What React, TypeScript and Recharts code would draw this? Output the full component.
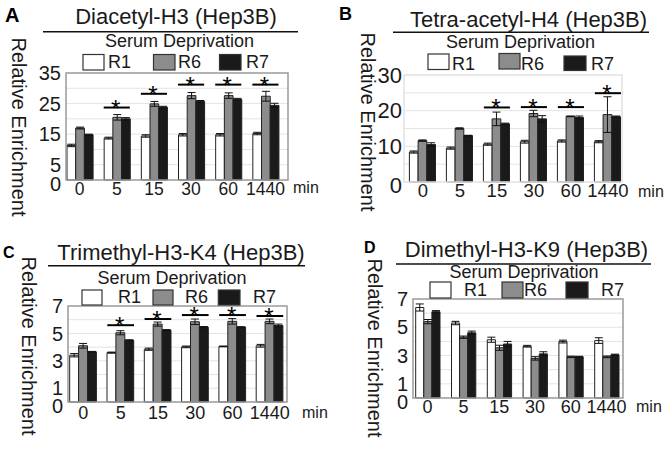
import React from 'react';
import { ComposedChart, Bar, Line, XAxis, YAxis, ErrorBar, CartesianGrid } from 'recharts';

const FONT = '"Liberation Sans", Arial, Helvetica, sans-serif';
const TIMES = ['0', '5', '15', '30', '60', '1440'];
const SERIES = ['R1', 'R6', 'R7'];
const COLORS = ['#ffffff', '#8c8c8c', '#1a1a1a'];

// A: Diacetyl-H3
const A_R1 = [11.3, 13.7, 14.4, 14.8, 14.8, 15.2];
const A_R6 = [17.0, 20.5, 24.9, 27.6, 27.6, 27.4];
const A_R7 = [14.8, 20.0, 23.8, 25.7, 26.4, 24.4];
const A_R1_ERR = [0.4, 0.3, 0.4, 0.4, 0.4, 0.4];
const A_R6_ERR = [0.3, 0.9, 0.8, 1.0, 0.9, 1.6];
const A_R7_ERR = [0.2, 0.4, 0.3, 0.3, 0.3, 0.7];
const A_SIG = [null, 23.7, 28.2, 31.2, 31.2, 31.2];

// B: Tetra-acetyl-H4
const B_R1 = [8.4, 9.5, 10.6, 11.3, 11.5, 11.3];
const B_R6 = [11.6, 15.0, 17.7, 19.2, 18.4, 18.9];
const B_R7 = [10.5, 13.0, 16.3, 17.7, 18.1, 18.3];
const B_R1_ERR = [0.3, 0.3, 0.3, 0.4, 0.3, 0.3];
const B_R6_ERR = [0.2, 0.2, 1.9, 0.9, 0.1, 5.0];
const B_R7_ERR = [0.5, 0.1, 0.2, 0.9, 0.4, 0.2];
const B_SIG = [null, null, 20.9, 21.0, 21.0, 24.9];

// C: Trimethyl-H3-K4
const C_R1 = [3.41, 3.6, 3.85, 4.02, 4.05, 4.1];
const C_R6 = [4.1, 5.05, 5.68, 5.85, 5.88, 5.88];
const C_R7 = [3.66, 4.5, 5.24, 5.46, 5.46, 5.58];
const C_R1_ERR = [0.12, 0.04, 0.08, 0.06, 0.03, 0.1];
const C_R6_ERR = [0.17, 0.15, 0.15, 0.2, 0.2, 0.17];
const C_R7_ERR = [0.03, 0.04, 0.04, 0.04, 0.03, 0.1];
const C_SIG = [null, 5.6, 6.05, 6.34, 6.34, 6.27];

// D: Dimethyl-H3-K9
const D_R1 = [6.4, 5.3, 4.12, 3.66, 3.99, 4.06];
const D_R6 = [5.4, 4.3, 3.55, 2.8, 2.91, 2.91];
const D_R7 = [6.1, 4.61, 3.82, 3.12, 2.91, 3.05];
const D_R1_ERR = [0.25, 0.12, 0.18, 0.06, 0.1, 0.2];
const D_R6_ERR = [0.15, 0.08, 0.18, 0.12, 0.05, 0.06];
const D_R7_ERR = [0.08, 0.12, 0.18, 0.15, 0.04, 0.05];
const D_SIG = [null, null, null, null, null, null];

const makeRows = (r1, r6, r7, e1, e6, e7, sig) =>
  TIMES.map((time, i) => ({ time, r1: r1[i], r6: r6[i], r7: r7[i], e1: e1[i], e6: e6[i], e7: e7[i], sig: sig[i] }));

const PANELS = [
  {
    rows: makeRows(A_R1, A_R6, A_R7, A_R1_ERR, A_R6_ERR, A_R7_ERR, A_SIG),
    plot: { x: 66, y: 73, w: 222, h: 107 }, padL: -5, padR: 4, barSize: 8.7,
    yDomain: [0, 35], yTicks: [0, 5, 15, 25, 35], grid: [5, 10, 15, 20, 25, 30],
    yFont: 20, xFont: 17.5, yGap: 5, xGap: 3, border: '#9a9a9a',
    letter: { t: 'A', x: 5, y: 22, size: 20 },
    title: { t: 'Diacetyl-H3 (Hep3B)', x: 176, y: 24 },
    rule: { x1: 43, x2: 298, y: 31.7 },
    serum: { x: 179.5, y: 47 },
    boxes: [[83, 54.5, 21, 15.5], [153.5, 54.5, 21.5, 15.5], [219.5, 54.5, 21.5, 15.5]],
    labels: [108, 178, 246], labelY: 68,
    ylabel: { x: 12, y: 127 },
    min: { x: 293, y: 193 },
  },
  {
    rows: makeRows(B_R1, B_R6, B_R7, B_R1_ERR, B_R6_ERR, B_R7_ERR, B_SIG),
    plot: { x: 404, y: 75, w: 218, h: 107 }, padL: 0.4, padR: -4.4, barSize: 8.7,
    yDomain: [0, 30], yTicks: [0, 10, 20, 30], grid: [5, 10, 15, 20, 25],
    yFont: 22, xFont: 18.5, yGap: 2, xGap: 2, border: '#e2e2e2',
    letter: { t: 'B', x: 339, y: 20, size: 18 },
    title: { t: 'Tetra-acetyl-H4 (Hep3B)', x: 528.5, y: 26.5 },
    rule: { x1: 393, x2: 649, y: 32.3 },
    serum: { x: 520.5, y: 48.3 },
    boxes: [[428, 54, 21, 15.5], [499, 53.5, 21, 15.5], [564, 56, 22, 14.5]],
    labels: [452, 521, 591], labelY: 69.5,
    ylabel: { x: 361, y: 122 },
    min: { x: 638, y: 196.5 },
  },
  {
    rows: makeRows(C_R1, C_R6, C_R7, C_R1_ERR, C_R6_ERR, C_R7_ERR, C_SIG),
    plot: { x: 68, y: 306, w: 219, h: 96 }, padL: -3.3, padR: -1.5, barSize: 8.9,
    yDomain: [0, 7], yTicks: [0, 1, 3, 5, 7], grid: [1, 2, 3, 4, 5, 6],
    yFont: 20, xFont: 18, yGap: 5, xGap: 4, border: '#9a9a9a',
    letter: { t: 'C', x: 3, y: 258, size: 16 },
    title: { t: 'Trimethyl-H3-K4 (Hep3B)', x: 181, y: 260 },
    rule: { x1: 48, x2: 305, y: 265.7 },
    serum: { x: 172, y: 284.3 },
    boxes: [[82, 290, 20, 15], [153, 290, 20, 15], [218.3, 290, 21.7, 15]],
    labels: [118, 185, 253], labelY: 303,
    ylabel: { x: 22, y: 346 },
    min: { x: 302, y: 418.3 },
  },
  {
    rows: makeRows(D_R1, D_R6, D_R7, D_R1_ERR, D_R6_ERR, D_R7_ERR, D_SIG),
    plot: { x: 413, y: 299, w: 210, h: 99 }, padL: -3.3, padR: -1.5, barSize: 8.1,
    yDomain: [0, 7], yTicks: [0, 1, 3, 5, 7], grid: [1, 2, 3, 4, 5, 6],
    yFont: 20, xFont: 18, yGap: 5, xGap: 2, border: '#9a9a9a',
    letter: { t: 'D', x: 364, y: 253, size: 16 },
    title: { t: 'Dimethyl-H3-K9 (Hep3B)', x: 526.5, y: 256.5 },
    rule: { x1: 396, x2: 651, y: 264 },
    serum: { x: 524, y: 278.3 },
    boxes: [[430, 282, 21, 16], [502, 282, 21, 16], [566, 282, 22, 16]],
    labels: [464, 524, 601], labelY: 296,
    ylabel: { x: 368, y: 348 },
    min: { x: 636, y: 411.7 },
  },
];

const SigMark = (props: any) => {
  const { cx, cy, value, index, groupW } = props;
  if (value == null || cy == null || Number.isNaN(cy)) return <g key={`s-${index}`} />;
  return (
    <g key={`s-${index}`}>
      <line x1={cx - groupW / 2} x2={cx + groupW / 2} y1={cy} y2={cy} stroke="#000" strokeWidth={2} />
      <text x={cx - 1} y={cy + 9} textAnchor="middle" fontSize={24} fontFamily={FONT} fill="#000">*</text>
    </g>
  );
};

// y tick; the zero label sits a little below its tick in the original
const YTick = (props: any) => {
  const { x, y, payload, size } = props;
  const shift = payload.value === 0 ? 3.5 : 0;
  return (
    <text x={x} y={y + shift} dy="0.355em" textAnchor="end" fontSize={size} fontFamily={FONT} fill="#1a1a1a">
      {payload.value}
    </text>
  );
};

const LEFT = 60;
const TOP = 25;
const RIGHT = 20;
const XH = 30;

const PanelChart = ({ p }: { p: any }) => {
  return (
    <div style={{ position: 'absolute', left: p.plot.x - LEFT, top: p.plot.y - TOP }}>
      <ComposedChart
        width={p.plot.w + LEFT + RIGHT}
        height={p.plot.h + TOP + XH}
        data={p.rows}
        margin={{ top: TOP, right: RIGHT, bottom: 0, left: 0 }}
        barGap={0}
      >
        <CartesianGrid vertical={false} horizontalValues={p.grid} stroke="#e4e4e4" />
        <XAxis
          dataKey="time" height={XH} interval={0} tickLine={false} axisLine={false}
          tickSize={0} tickMargin={p.xGap} padding={{ left: p.padL, right: p.padR }}
          tick={{ fontSize: p.xFont, fill: '#1a1a1a', fontFamily: FONT }}
        />
        <YAxis
          width={LEFT} domain={p.yDomain} ticks={p.yTicks} interval={0} tickLine={false}
          axisLine={false} tickSize={0} tickMargin={p.yGap}
          tick={(t: any) => <YTick {...t} size={p.yFont} />}
        />
        {['r1', 'r6', 'r7'].map((k, i) => (
          <Bar key={k} dataKey={k} name={SERIES[i]} fill={COLORS[i]} stroke="#222" strokeWidth={1}
            barSize={p.barSize} isAnimationActive={false}>
            <ErrorBar dataKey={['e1', 'e6', 'e7'][i]} width={4} stroke="#111" strokeWidth={1} direction="y" />
          </Bar>
        ))}
        <Line dataKey="sig" stroke="none" activeDot={false} isAnimationActive={false}
          dot={(d: any) => <SigMark {...d} groupW={p.barSize * 3} />} />
      </ComposedChart>
    </div>
  );
};

const Overlay = () => (
  <svg width={672} height={449} style={{ position: 'absolute', left: 0, top: 0, pointerEvents: 'none' }}
    fontFamily={FONT} fill="#1a1a1a">
    {PANELS.map((p, n) => (
      <g key={n}>
        <rect x={p.plot.x} y={p.plot.y} width={p.plot.w} height={p.plot.h} fill="none" stroke={p.border} strokeWidth={1.5} />
        <text x={p.letter.x} y={p.letter.y} fontSize={p.letter.size} fontWeight="bold" fill="#000">{p.letter.t}</text>
        <text x={p.title.x} y={p.title.y} fontSize={22} textAnchor="middle">{p.title.t}</text>
        <line x1={p.rule.x1} x2={p.rule.x2} y1={p.rule.y} y2={p.rule.y} stroke="#111" strokeWidth={1.5} />
        <text x={p.serum.x} y={p.serum.y} fontSize={18} textAnchor="middle">Serum Deprivation</text>
        {p.boxes.map((b, i) => (
          <g key={i}>
            <rect x={b[0]} y={b[1]} width={b[2]} height={b[3]} fill={COLORS[i]} stroke="#333" strokeWidth={1.2} />
            <text x={p.labels[i]} y={p.labelY} fontSize={18}>{SERIES[i]}</text>
          </g>
        ))}
        <text transform={`translate(${p.ylabel.x},${p.ylabel.y}) rotate(90)`} fontSize={20} textAnchor="middle">
          Relative Enrichment
        </text>
        <text x={p.min.x} y={p.min.y} fontSize={16}>min</text>
      </g>
    ))}
  </svg>
);

const App = () => (
  <div style={{ position: 'absolute', left: 0, top: 0, width: 672, height: 449, background: '#fff', overflow: 'hidden' }}>
    {PANELS.map((p, n) => <PanelChart key={n} p={p} />)}
    <Overlay />
  </div>
);

export default App;
